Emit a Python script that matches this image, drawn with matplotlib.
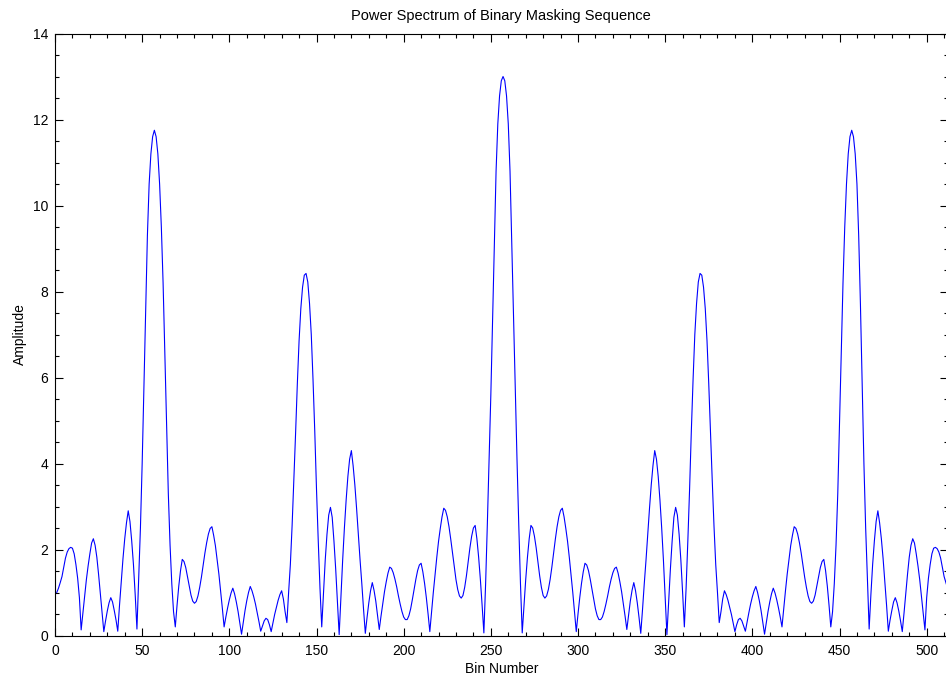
import matplotlib
matplotlib.use("Agg")
import matplotlib.pyplot as plt
from matplotlib.ticker import MultipleLocator

plt.rcParams['font.family'] = ['Liberation Sans', 'DejaVu Sans']

# Amplitude per bin, bins 1..257 (left half)
amp_left = [
    1.00, 1.10, 1.23, 1.37, 1.58, 1.80, 1.94, 2.02, 2.05, 2.03,
    1.90, 1.65, 1.33, 0.88, 0.13, 0.52, 0.92, 1.30, 1.62, 1.90,
    2.15, 2.25, 2.10, 1.82, 1.42, 0.98, 0.52, 0.09, 0.34, 0.57,
    0.76, 0.88, 0.78, 0.58, 0.36, 0.10, 0.70, 1.26, 1.79, 2.25,
    2.62, 2.90, 2.65, 2.20, 1.65, 0.95, 0.15, 1.30, 2.50, 4.00,
    5.80, 7.70, 9.30, 10.50, 11.20, 11.60, 11.75, 11.60, 11.20, 10.50,
    9.50, 8.20, 6.60, 4.90, 3.30, 2.10, 1.20, 0.55, 0.20, 0.70,
    1.15, 1.51, 1.77, 1.72, 1.58, 1.37, 1.15, 0.94, 0.80, 0.75,
    0.79, 0.92, 1.12, 1.36, 1.64, 1.92, 2.16, 2.36, 2.49, 2.53,
    2.33, 2.09, 1.77, 1.43, 1.04, 0.63, 0.20, 0.43, 0.64, 0.83,
    0.99, 1.10, 0.97, 0.78, 0.56, 0.30, 0.03, 0.31, 0.58, 0.81,
    1.00, 1.14, 1.04, 0.90, 0.73, 0.53, 0.32, 0.10, 0.22, 0.34,
    0.40, 0.37, 0.25, 0.09, 0.29, 0.49, 0.66, 0.82, 0.95, 1.04,
    0.85, 0.55, 0.30, 1.00, 1.65, 2.55, 3.60, 4.70, 5.85, 6.85,
    7.60, 8.10, 8.38, 8.42, 8.22, 7.72, 7.00, 5.95, 4.75, 3.40,
    2.20, 1.10, 0.20, 1.00, 1.75, 2.35, 2.80, 2.98, 2.75, 2.20,
    1.55, 0.80, 0.02, 0.90, 1.75, 2.50, 3.15, 3.70, 4.10, 4.30,
    3.95, 3.50, 2.95, 2.35, 1.75, 1.20, 0.60, 0.05, 0.42, 0.76,
    1.04, 1.23, 1.05, 0.80, 0.48, 0.14, 0.45, 0.74, 1.02, 1.25,
    1.45, 1.59, 1.56, 1.46, 1.31, 1.13, 0.92, 0.73, 0.56, 0.43,
    0.37, 0.37, 0.46, 0.62, 0.84, 1.08, 1.31, 1.51, 1.64, 1.68,
    1.48, 1.21, 0.88, 0.50, 0.09, 0.55, 1.00, 1.42, 1.82, 2.19,
    2.49, 2.76, 2.96, 2.91, 2.76, 2.53, 2.24, 1.92, 1.59, 1.30,
    1.07, 0.92, 0.87, 0.93, 1.12, 1.39, 1.72, 2.04, 2.31, 2.50,
    2.56, 2.25, 1.82, 1.30, 0.70, 0.06, 1.20, 2.60, 4.10, 5.60,
    7.30, 9.10, 10.80, 11.90, 12.55, 12.90, 13.00,
]

# Amplitude per bin, bins 258..512 (right half)
amp_right = [
    12.90, 12.55, 11.90, 10.80, 9.10, 7.30,
    5.60, 4.10, 2.60, 1.20, 0.06, 0.70, 1.30, 1.82, 2.25, 2.56,
    2.50, 2.31, 2.04, 1.72, 1.39, 1.12, 0.93, 0.87, 0.92, 1.07,
    1.30, 1.59, 1.92, 2.24, 2.53, 2.76, 2.91, 2.96, 2.76, 2.49,
    2.19, 1.82, 1.42, 1.00, 0.55, 0.09, 0.50, 0.88, 1.21, 1.48,
    1.68, 1.64, 1.51, 1.31, 1.08, 0.84, 0.62, 0.46, 0.37, 0.37,
    0.43, 0.56, 0.73, 0.92, 1.13, 1.31, 1.46, 1.56, 1.59, 1.45,
    1.25, 1.02, 0.74, 0.45, 0.14, 0.48, 0.80, 1.05, 1.23, 1.04,
    0.76, 0.42, 0.05, 0.60, 1.20, 1.75, 2.35, 2.95, 3.50, 3.95,
    4.30, 4.10, 3.70, 3.15, 2.50, 1.75, 0.90, 0.02, 0.80, 1.55,
    2.20, 2.75, 2.98, 2.80, 2.35, 1.75, 1.00, 0.20, 1.10, 2.20,
    3.40, 4.75, 5.95, 7.00, 7.72, 8.22, 8.42, 8.38, 8.10, 7.60,
    6.85, 5.85, 4.70, 3.60, 2.55, 1.65, 1.00, 0.30, 0.55, 0.85,
    1.04, 0.95, 0.82, 0.66, 0.49, 0.29, 0.09, 0.25, 0.37, 0.40,
    0.34, 0.22, 0.10, 0.32, 0.53, 0.73, 0.90, 1.04, 1.14, 1.00,
    0.81, 0.58, 0.31, 0.03, 0.30, 0.56, 0.78, 0.97, 1.10, 0.99,
    0.83, 0.64, 0.43, 0.20, 0.63, 1.04, 1.43, 1.77, 2.09, 2.33,
    2.53, 2.49, 2.36, 2.16, 1.92, 1.64, 1.36, 1.12, 0.92, 0.79,
    0.75, 0.80, 0.94, 1.15, 1.37, 1.58, 1.72, 1.77, 1.51, 1.15,
    0.70, 0.20, 0.55, 1.20, 2.10, 3.30, 4.90, 6.60, 8.20, 9.50,
    10.50, 11.20, 11.60, 11.75, 11.60, 11.20, 10.50, 9.30, 7.70, 5.80,
    4.00, 2.50, 1.30, 0.15, 0.95, 1.65, 2.20, 2.65, 2.90, 2.62,
    2.25, 1.79, 1.26, 0.70, 0.10, 0.36, 0.58, 0.78, 0.88, 0.76,
    0.57, 0.34, 0.09, 0.52, 0.98, 1.42, 1.82, 2.10, 2.25, 2.15,
    1.90, 1.62, 1.30, 0.92, 0.52, 0.13, 0.88, 1.33, 1.65, 1.90,
    2.03, 2.05, 2.02, 1.94, 1.80, 1.58, 1.37, 1.23, 1.10,
]

amplitude = amp_left + amp_right
bins = list(range(1, len(amplitude) + 1))

x_ticks = [0, 50, 100, 150, 200, 250, 300, 350, 400, 450, 500]
y_ticks = [0, 2, 4, 6, 8, 10, 12, 14]

W, H = 946, 681
fig = plt.figure(figsize=(W / 100, H / 100), dpi=100)
fig.patch.set_facecolor('white')
left_px, right_px, top_px, bottom_px = 55, 947.6, 33.5, 635.5
ax = fig.add_axes([left_px / W, (H - bottom_px) / H,
                   (right_px - left_px) / W, (bottom_px - top_px) / H])

ax.plot(bins, amplitude, color='#0000ff', linewidth=0.8)

ax.set_xlim(0, 512)
ax.set_ylim(0, 14)
ax.set_xticks(x_ticks)
ax.set_yticks(y_ticks)
ax.xaxis.set_minor_locator(MultipleLocator(10))
ax.yaxis.set_minor_locator(MultipleLocator(0.5))
ax.tick_params(which='both', direction='in', top=True, right=True,
               labelsize=10, colors='black', width=0.8)
ax.tick_params(axis='x', which='major', pad=6)
ax.tick_params(axis='y', which='major', pad=5)
ax.tick_params(which='major', length=5.5)
ax.tick_params(which='minor', length=3)
for s in ax.spines.values():
    s.set_linewidth(0.8)
    s.set_color('black')

ax.set_title('Power Spectrum of Binary Masking Sequence', fontsize=10.5, pad=10)
ax.set_xlabel('Bin Number', fontsize=10, labelpad=3)
ax.set_ylabel('Amplitude', fontsize=10, labelpad=4)

fig.savefig('out.png', dpi=100)
